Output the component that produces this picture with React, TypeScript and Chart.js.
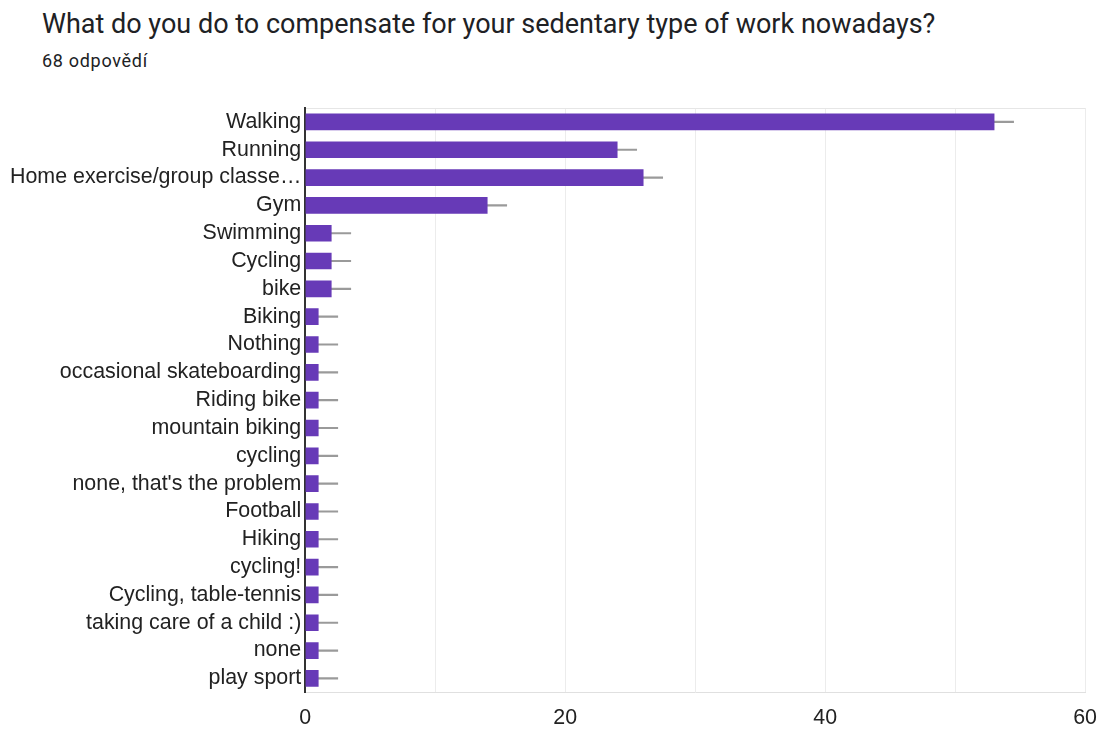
import React, { useEffect, useRef } from "react";
import { Chart, registerables } from "chart.js";

Chart.register(...registerables);

const titleText = "What do you do to compensate for your sedentary type of work nowadays?";
const subtitleText = "68 odpovědí";

const categories = [
  "Walking",
  "Running",
  "Home exercise/group classe…",
  "Gym",
  "Swimming",
  "Cycling",
  "bike",
  "Biking",
  "Nothing",
  "occasional skateboarding",
  "Riding bike",
  "mountain biking",
  "cycling",
  "none, that's the problem",
  "Football",
  "Hiking",
  "cycling!",
  "Cycling, table-tennis",
  "taking care of a child :)",
  "none",
  "play sport",
];

const counts = [53, 24, 26, 14, 2, 2, 2, 1, 1, 1, 1, 1, 1, 1, 1, 1, 1, 1, 1, 1, 1];

const whiskerSpan = 1.5;
const xTickLabels = [0, 20, 40, 60];

const labelFont = { family: "'Liberation Sans', Arial, sans-serif", size: 21.4 };

export default function App() {
  const ref = useRef<HTMLCanvasElement>(null);

  useEffect(() => {
    if (!ref.current) return;
    const chart = new Chart(ref.current, {
      type: "bar",
      data: {
        labels: categories,
        datasets: [
          {
            data: counts,
            backgroundColor: "#673ab7",
            barThickness: 16,
            grouped: false,
          } as any,
          {
            data: counts.map((v) => [v, v + whiskerSpan]),
            backgroundColor: "#9a9a9a",
            barThickness: 1.5,
            grouped: false,
          } as any,
        ],
      },
      options: {
        indexAxis: "y",
        animation: false,
        responsive: false,
        maintainAspectRatio: false,
        layout: { padding: { left: 6, right: 0, top: 20, bottom: 0 } },
        plugins: {
          legend: { display: false },
          tooltip: { enabled: false },
        },
        scales: {
          x: {
            min: 0,
            max: 60,
            ticks: {
              stepSize: 10,
              autoSkip: false,
              maxRotation: 0,
              color: "#222",
              font: labelFont,
              padding: 13,
              callback: (v: any) => (xTickLabels.includes(Number(v)) ? String(v) : ""),
            },
            grid: { color: "#ececec", drawTicks: false, lineWidth: 1 },
            border: { color: "#e0e0e0", width: 1 },
          },
          y: {
            ticks: {
              autoSkip: false,
              color: "#222",
              font: labelFont,
              padding: 4,
            },
            grid: {
              drawTicks: false,
              color: (ctx: any) =>
                ctx.index === 0 || ctx.index === categories.length ? "#e6e6e6" : "rgba(0,0,0,0)",
            },
            border: { color: "#333", width: 2 },
          },
        },
      },
    });
    return () => chart.destroy();
  }, []);

  return (
    <div
      style={{
        position: "absolute",
        left: 0,
        top: 0,
        width: 1098,
        height: 729,
        background: "#fff",
        overflow: "hidden",
      }}
    >
      <div
        style={{
          position: "absolute",
          left: 42,
          top: 8,
          fontFamily: "Roboto, 'Noto Sans', sans-serif",
          fontSize: 27,
          color: "#202124",
          whiteSpace: "nowrap",
        }}
      >
        {titleText}
      </div>
      <div
        style={{
          position: "absolute",
          left: 42,
          top: 50,
          fontFamily: "Roboto, 'Noto Sans', sans-serif",
          fontSize: 18,
          letterSpacing: 0.7,
          color: "#202124",
          whiteSpace: "nowrap",
        }}
      >
        {subtitleText}
      </div>
      <canvas
        ref={ref}
        width={1110}
        height={656}
        style={{ position: "absolute", left: 0, top: 88, width: 1110, height: 656 }}
      />
    </div>
  );
}
